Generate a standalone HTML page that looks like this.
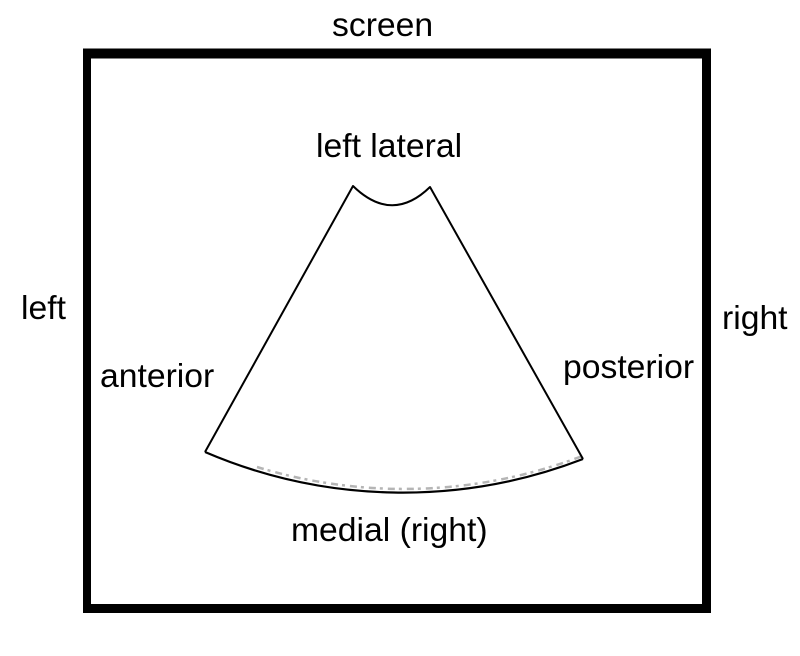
<!DOCTYPE html>
<html lang="en">
<head>
<meta charset="utf-8">
<title>Screen orientation diagram</title>
<style>
html,body{margin:0;padding:0;background:#fff;}
body{width:800px;height:656px;overflow:hidden;}
svg{display:block;}
text{font-family:"Liberation Sans",Arial,sans-serif;font-size:33.7px;fill:#000;}
</style>
</head>
<body>
<svg width="800" height="656" viewBox="0 0 800 656" xmlns="http://www.w3.org/2000/svg">
<path fill-rule="evenodd" fill="#000" d="M83 48.5H711V613H83Z M91 58.5V604H702V58.5Z"/>
<path d="M257 467 A501 501 0 0 0 581 456.5" fill="none" stroke="#b5b5b5" stroke-width="2.5" stroke-dasharray="7 4 3 5"/>
<path d="M205 452 A501 501 0 0 0 583 459" fill="none" stroke="#000" stroke-width="2.2"/>
<path d="M205 452 L353 186 Q392 224 430 187 L583 459" fill="none" stroke="#000" stroke-width="2" stroke-linejoin="round"/>
<text x="332" y="36">screen</text>
<text x="316" y="157">left lateral</text>
<text x="21" y="319">left</text>
<text x="722" y="329">right</text>
<text x="100" y="387">anterior</text>
<text x="563" y="378">posterior</text>
<text x="291" y="541">medial (right)</text>
</svg>
</body>
</html>
